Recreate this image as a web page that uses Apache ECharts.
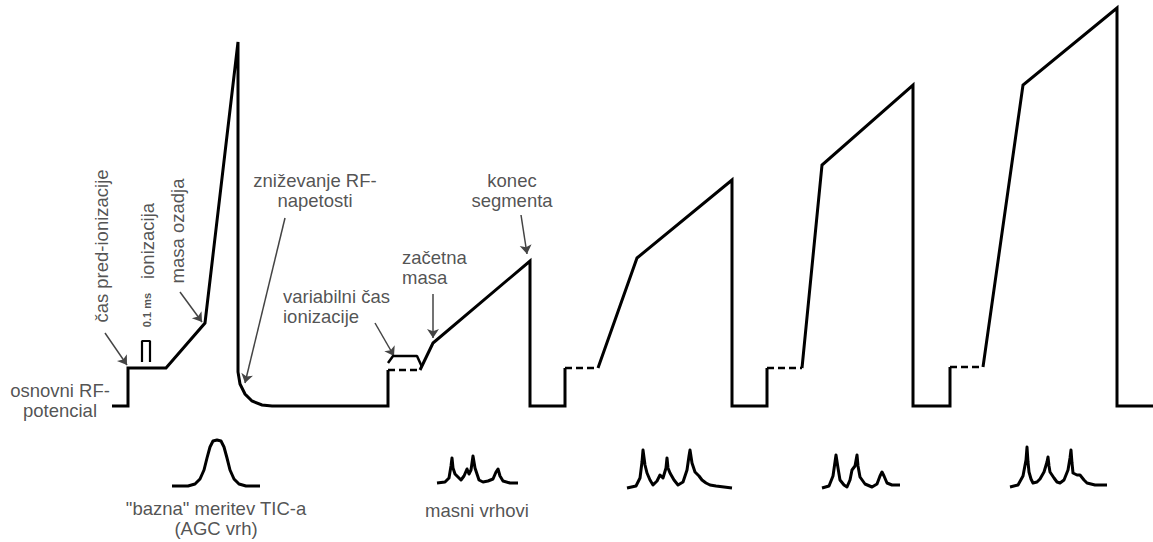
<!DOCTYPE html>
<html>
<head>
<meta charset="utf-8">
<script src="https://cdn.jsdelivr.net/npm/echarts@6/dist/echarts.min.js"></script>
<style>
  html, body { margin: 0; padding: 0; background: #ffffff; }
  #chart { width: 1153px; height: 542px; }
</style>
</head>
<body>
<div id="chart"></div>
<script>
// ---- Data (schematic units: x = time, y = RF level, drawn on an inverted axis) ----
const waveSeg1 = [[112,406],[128,406],[128,368],[166,368],[205,323],[238,42],[238,372],[240,384],[245,394],[252,401],[262,405],[272,406],[388,406],[388,370]];
const waveSeg2 = [[420,370],[433,343],[530,261],[530,406],[565,406],[565,368]];
const waveSeg3 = [[598,368],[637,258],[732,180],[732,406],[767,406],[767,368]];
const waveSeg4 = [[802,368],[822,165],[913,85],[913,406],[950,406],[950,367]];
const waveSeg5 = [[983,367],[1023,85],[1117,8],[1117,406],[1153,406]];

const dashSeg1 = [[388,370],[420,370]];
const dashSeg2 = [[565,368],[598,368]];
const dashSeg3 = [[767,368],[802,368]];
const dashSeg4 = [[950,367],[983,367]];

const variableIonBump = [[388,363],[393,356],[417,356],[422,367]];
const pulseIcon = [[142,362],[142,341],[150,341],[150,362]];

const agcPeak = [[172,486],[188,486],[195,484],[200,479],[204,470],[207,458],[210,447],[213,441],[217,440],[221,441],[224,447],[227,458],[230,470],[234,479],[239,484],[246,486],[260,486]];

const massPeaks1 = [[437,483],[445,482],[449,478],[451,466],[452,458],[453,468],[455,474],[458,477],[461,480],[464,476],[467,469],[469,474],[471,470],[473,456],[475,468],[477,474],[479,480],[483,482],[488,481],[493,479],[496,472],[498,469],[500,476],[503,481],[510,483],[518,483]];
const massPeaks2 = [[627,488],[636,486],[640,478],[642,462],[643,450],[645,465],[647,473],[650,480],[653,485],[657,481],[660,475],[663,478],[666,468],[667,458],[668,468],[670,473],[674,480],[678,485],[683,482],[687,470],[689,456],[690,450],[692,463],[695,472],[699,476],[702,480],[706,483],[710,485],[716,486],[724,487],[732,488]];
const massPeaks3 = [[822,488],[829,486],[833,476],[835,462],[836,455],[838,468],[840,480],[844,485],[847,487],[850,480],[852,470],[855,466],[857,455],[858,466],[860,477],[865,484],[872,487],[877,484],[880,476],[882,472],[884,476],[887,483],[892,485],[900,485]];
const massPeaks4 = [[1010,487],[1018,485],[1023,476],[1026,460],[1027,447],[1028,462],[1029,472],[1031,479],[1033,483],[1037,482],[1040,479],[1044,472],[1047,462],[1048,457],[1049,466],[1050,472],[1054,478],[1057,482],[1060,483],[1064,480],[1068,470],[1070,458],[1071,450],[1072,463],[1073,473],[1077,475],[1080,475],[1084,480],[1087,483],[1095,485],[1107,485]];

const arrowFrom = [[105,333],[180,292],[285,218],[375,323],[433,294],[521,215]];
const arrowTo   = [[127,365],[202,322],[245,383],[394,356],[433,338],[527,254]];

const annotText = ['čas pred-ionizacije','ionizacija','0.1 ms','masa ozadja','zniževanje RF-\nnapetosti','variabilni čas\nionizacije','začetna\nmasa','konec\nsegmenta','osnovni RF-\npotencial','"bazna" meritev TIC-a\n(AGC vrh)','masni vrhovi'];
const annotAt   = [[101,246],[147,241],[147,310],[177,231],[315,190],[283,306],[402,267],[512,190],[60,400],[216,518],[477,510]];
const annotRotate = [90,90,90,90,0,0,0,0,0,0,0];
const annotAlign  = ['center','center','center','center','center','left','left','center','center','center','center'];

// ---- Chart ----
const chart = echarts.init(document.getElementById('chart'), null, { renderer: 'svg' });

function lineSeries(data, opts) {
  return Object.assign({
    type: 'line', data: data, symbol: 'none', silent: true, animation: false,
    lineStyle: { color: '#000', width: 3, join: 'miter' }
  }, opts || {});
}

const series = [];
[waveSeg1, waveSeg2, waveSeg3, waveSeg4, waveSeg5].forEach(s => series.push(lineSeries(s)));
[dashSeg1, dashSeg2, dashSeg3, dashSeg4].forEach(s => series.push(lineSeries(s, { lineStyle: { color: '#000', width: 2.5, type: [7, 4] } })));
series.push(lineSeries(variableIonBump, { lineStyle: { color: '#000', width: 2.5 } }));
series.push(lineSeries(pulseIcon, { lineStyle: { color: '#000', width: 2.2 } }));
[agcPeak, massPeaks1, massPeaks2, massPeaks3, massPeaks4].forEach(s => series.push(lineSeries(s, { lineStyle: { color: '#000', width: 3, join: 'round' } })));

series.push({
  type: 'lines', coordinateSystem: 'cartesian2d', silent: true, animation: false,
  symbol: ['none', 'arrow'], symbolSize: 9,
  lineStyle: { color: '#444', width: 1.5, opacity: 1 },
  data: arrowFrom.map((f, i) => ({ coords: [f, arrowTo[i]] }))
});

series.push({
  type: 'scatter', symbolSize: 0, silent: true, animation: false,
  data: annotText.map((t, i) => ({
    value: annotAt[i],
    label: {
      show: true, formatter: t, position: 'inside',
      rotate: annotRotate[i], align: annotAlign[i], verticalAlign: 'middle',
      color: '#262626', fontFamily: 'Liberation Sans, Arial, sans-serif',
      fontSize: t === '0.1 ms' ? 11 : 18.5,
      fontWeight: t === '0.1 ms' ? 'bold' : 'normal',
      lineHeight: 20
    }
  }))
});

chart.setOption({
  backgroundColor: '#ffffff',
  animation: false,
  grid: { left: 0, right: 0, top: 0, bottom: 0 },
  xAxis: { type: 'value', min: 0, max: 1153, show: false },
  yAxis: { type: 'value', min: 0, max: 542, inverse: true, show: false },
  series: series
});
</script>
</body>
</html>
